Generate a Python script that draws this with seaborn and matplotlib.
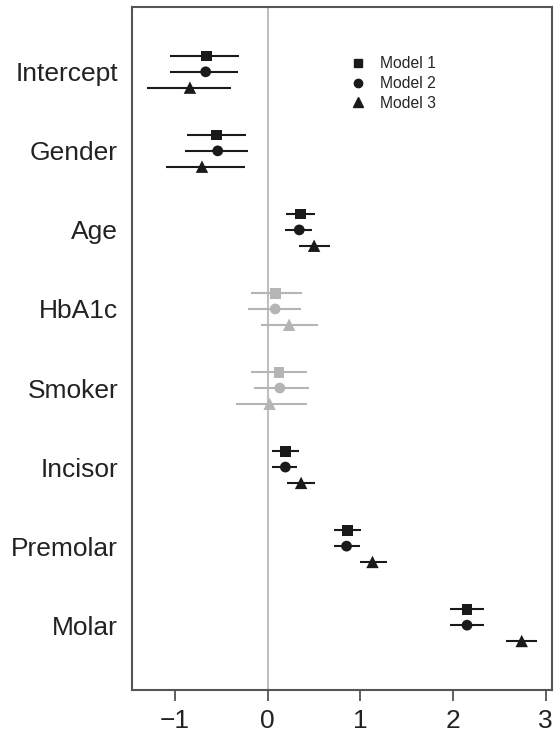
import numpy as np
import pandas as pd
import matplotlib
matplotlib.use("Agg")
import matplotlib.pyplot as plt
import seaborn as sns
from matplotlib.lines import Line2D

# --- data ---
terms = ["Intercept", "Gender", "Age", "HbA1c", "Smoker", "Incisor", "Premolar", "Molar"]
faded = ["HbA1c", "Smoker"]

m1_est = [-0.66, -0.55, 0.35, 0.08, 0.12, 0.19, 0.86, 2.15]
m1_lo = [-1.05, -0.87, 0.20, -0.18, -0.18, 0.05, 0.71, 1.97]
m1_hi = [-0.31, -0.24, 0.51, 0.37, 0.42, 0.34, 1.01, 2.33]

m2_est = [-0.67, -0.54, 0.34, 0.08, 0.13, 0.19, 0.85, 2.15]
m2_lo = [-1.06, -0.89, 0.19, -0.21, -0.15, 0.05, 0.71, 1.97]
m2_hi = [-0.32, -0.21, 0.48, 0.36, 0.44, 0.32, 0.99, 2.33]

m3_est = [-0.84, -0.71, 0.50, 0.23, 0.02, 0.36, 1.13, 2.74]
m3_lo = [-1.30, -1.10, 0.34, -0.07, -0.34, 0.21, 0.99, 2.57]
m3_hi = [-0.40, -0.25, 0.67, 0.54, 0.42, 0.51, 1.29, 2.91]

models = ["Model 1", "Model 2", "Model 3"]

rows = []
for k, (est, lo, hi) in enumerate([(m1_est, m1_lo, m1_hi),
                                   (m2_est, m2_lo, m2_hi),
                                   (m3_est, m3_lo, m3_hi)]):
    for i, t in enumerate(terms):
        rows.append({"term": t, "model": models[k], "est": est[i], "lo": lo[i],
                     "hi": hi[i], "pos": i + (k - 1) * 0.2,
                     "faded": t in faded})
df = pd.DataFrame(rows)

sns.set_theme(style="white")
plt.rcParams["font.family"] = ["Liberation Sans", "DejaVu Sans"]

fig = plt.figure(figsize=(5.56, 7.38), dpi=100)
ax = fig.add_axes([132 / 556, 48 / 738, 420 / 556, 683 / 738])

ax.axvline(0, color="#bfbfbf", lw=1.5, zorder=0)

markers = {"Model 1": "s", "Model 2": "o", "Model 3": "^"}
sizes = {"Model 1": 60, "Model 2": 60, "Model 3": 80}
for fade, color in [(False, "#1a1a1a"), (True, "#b5b5b5")]:
    sub = df[df["faded"] == fade]
    ax.hlines(sub["pos"], sub["lo"], sub["hi"], color=color, lw=1.5, zorder=1)
    for m in models:
        s = sub[sub["model"] == m]
        sns.scatterplot(data=s, x="est", y="pos", marker=markers[m], s=sizes[m],
                        color=color, edgecolor="none", ax=ax, zorder=2, legend=False)

ax.set_xlim(-1.465, 3.067)
ax.set_ylim(7.82, -0.82)
ax.set_xticks([-1, 0, 1, 2, 3])
ax.set_xticklabels(["\u22121", "0", "1", "2", "3"])
ax.set_yticks(range(len(terms)))
ax.set_yticklabels(terms)
ax.set_xlabel("")
ax.set_ylabel("")
ax.tick_params(axis="x", bottom=True, length=8, width=1.2, color="#444444",
               labelsize=19, pad=6, labelcolor="#222222")
ax.tick_params(axis="y", left=False, length=0, labelsize=19, pad=10, labelcolor="#222222")
for sp in ax.spines.values():
    sp.set_color("#555555")
    sp.set_linewidth(1.5)

handles = [Line2D([], [], marker=markers[m], color="#1a1a1a", ls="none",
                  markersize=6 if m != "Model 3" else 7) for m in models]
ax.legend(handles, models, loc="upper left", bbox_to_anchor=(0.505, 0.937),
          frameon=False, fontsize=11.3, handletextpad=0.9, labelspacing=0.3,
          handlelength=1.0, borderaxespad=0)

fig.savefig("out.png", dpi=100)
